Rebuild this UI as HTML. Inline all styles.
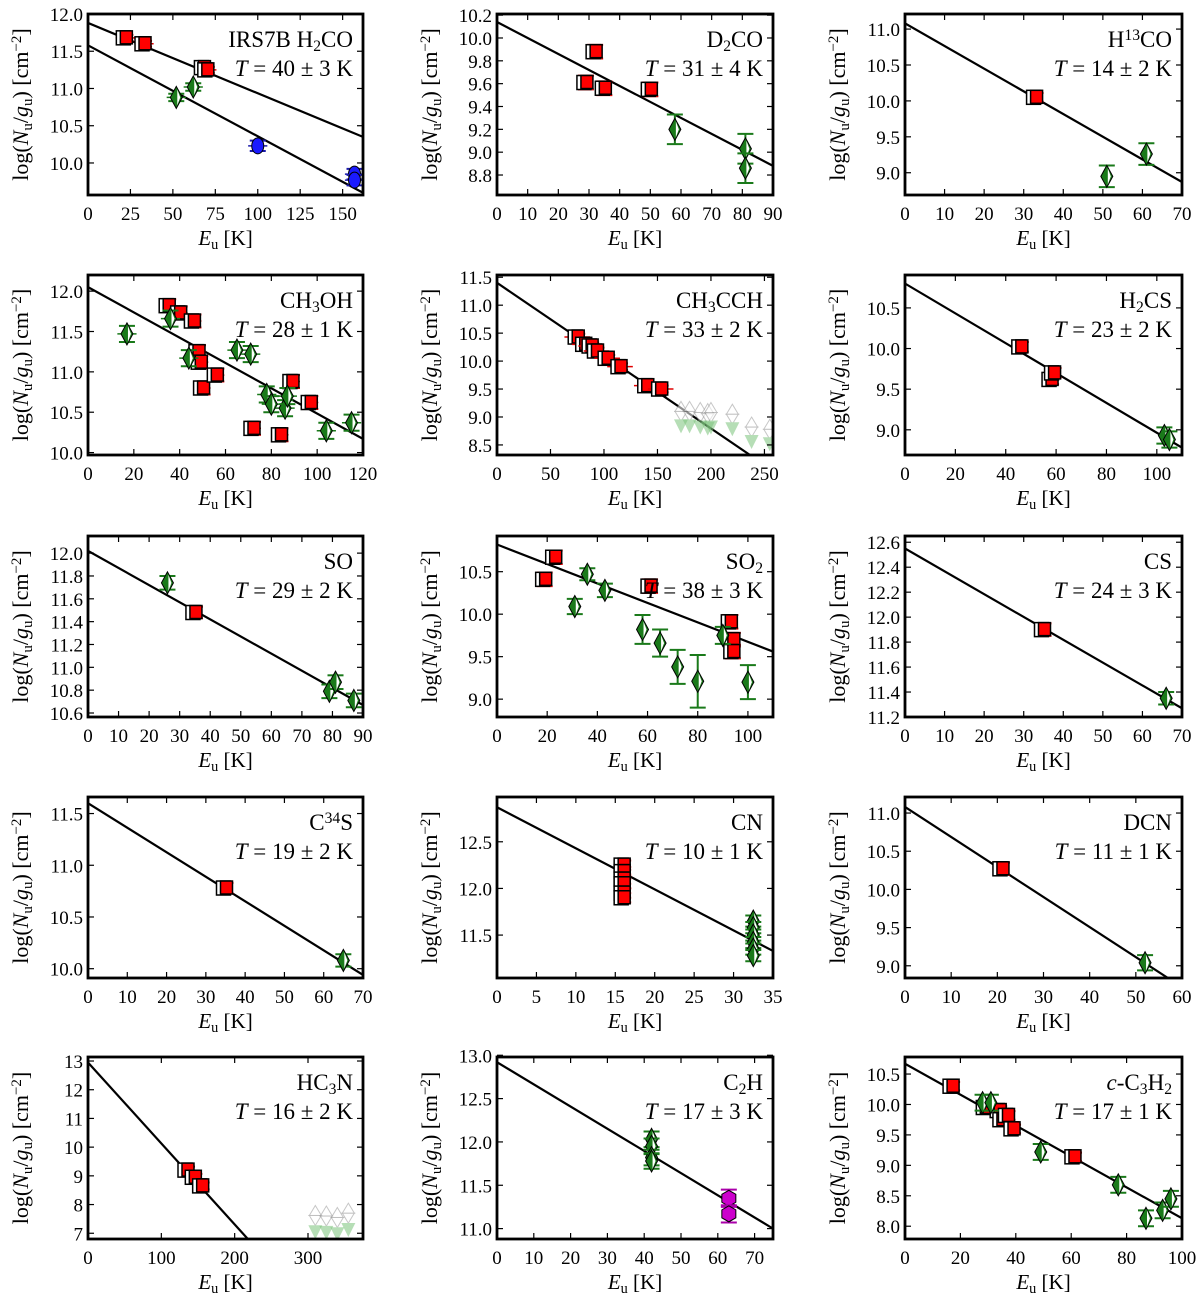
<!DOCTYPE html>
<html><head><meta charset="utf-8"><style>
html,body{margin:0;padding:0;background:#fff;width:1200px;height:1300px;overflow:hidden}
svg{display:block;font-family:"Liberation Serif",serif}
</style></head><body>
<svg id="fig" width="1200" height="1300" viewBox="0 0 1200 1300" xmlns="http://www.w3.org/2000/svg"></svg>
<script>
// ---------- data ----------
const h2coRedE=[22,33,68,70], h2coRedN=[11.68,11.6,11.28,11.25];
const h2coGrnE=[52,62], h2coGrnN=[10.88,11.02];
const h2coBluE=[100,157,157], h2coBluN=[10.23,9.85,9.77];
const h2coFitA=[11.88,10.35], h2coFitB=[11.58,9.6];

const d2coRedE=[29,32,35,50], d2coRedN=[9.61,9.88,9.56,9.55];
const d2coGrnE=[58,81,81], d2coGrnN=[9.2,9.03,8.86];
const d2coFit=[10.14,8.88];

const h13coRedE=[33], h13coRedN=[10.05];
const h13coGrnE=[51,61], h13coGrnN=[8.95,9.26];
const h13coFit=[11.08,8.87];

const ch3ohRedE=[35,40,46,48,49,50,56,72,84,89,97], ch3ohRedN=[11.82,11.73,11.63,11.25,11.12,10.8,10.96,10.3,10.22,10.88,10.62];
const ch3ohGrnE=[17,36,44,65,71,78,80,86,87,104,115], ch3ohGrnN=[11.47,11.66,11.17,11.27,11.22,10.72,10.6,10.55,10.7,10.27,10.37];
const ch3ohFit=[12.05,10.17];

const ch3cchRedE=[75,82,88,93,103,115,140,153], ch3cchRedN=[10.43,10.3,10.27,10.18,10.05,9.9,9.56,9.5];
const ch3cchLimE=[172,180,190,197,200,220,238,255], ch3cchLimN=[9.1,9.1,9.08,9.06,9.08,9.05,8.82,8.78];
const ch3cchFit=[11.4,8.04];

const h2csRedE=[46,58,59], h2csRedN=[10.02,9.62,9.7];
const h2csGrnE=[103,105], h2csGrnN=[8.93,8.88];
const h2csFit=[10.8,8.78];

const soRedE=[35], soRedN=[11.48];
const soGrnE=[26,79,81,87], soGrnN=[11.74,10.79,10.87,10.71];
const soFit=[12.02,10.67];

const so2RedE=[19,23,61,93,94,94], so2RedN=[10.41,10.67,10.33,9.91,9.7,9.56];
const so2GrnE=[31,36,43,58,65,72,80,90,100], so2GrnN=[10.09,10.47,10.28,9.82,9.66,9.38,9.21,9.75,9.2];
const so2GrnErr=[0.09,0.07,0.08,0.17,0.16,0.2,0.31,0.1,0.2];
const so2Fit=[10.82,9.56];

const csRedE=[35], csRedN=[11.9];
const csGrnE=[66], csGrnN=[11.35];
const csFit=[12.55,11.27];

const c34sRedE=[35], c34sRedN=[10.78];
const c34sGrnE=[65], c34sGrnN=[10.08];
const c34sFit=[11.6,9.94];

const cnRedE=[16,16,16,16,16,16], cnRedN=[12.25,12.18,12.1,12.05,11.95,11.9];
const cnGrnE=[32.5,32.5,32.5,32.5,32.5,32.5], cnGrnN=[11.65,11.58,11.5,11.42,11.35,11.28];
const cnFit=[12.87,11.33];

const dcnRedE=[21], dcnRedN=[10.27];
const dcnGrnE=[52], dcnGrnN=[9.04];
const dcnFit=[11.08,8.72];

const hc3nRedE=[135,145,155], hc3nRedN=[9.2,8.95,8.65];
const hc3nLimE=[310,325,340,355], hc3nLimN=[7.62,7.6,7.55,7.7];
const hc3nFit=[12.95,2.37];

const c2hGrnE=[42,42,42,42], c2hGrnN=[12.03,11.95,11.82,11.78];
const c2hMagE=[63,63], c2hMagN=[11.35,11.17];
const c2hFit=[12.92,11.0];

const c3h2RedE=[17,29,34,35,37,39,61], c3h2RedN=[10.3,9.95,9.9,9.75,9.82,9.6,9.14];
const c3h2GrnE=[28,31,49,77,87,93,96], c3h2GrnN=[10.03,10.03,9.22,8.68,8.13,8.26,8.45];
const c3h2Fit=[10.67,8.13];

// ---------- layout ----------
const COLS=[[88,363],[497,773],[905,1182]];
const ROWS=[[14,195],[275,455],[536,717],[797,978],[1057,1239]];
const NS="http://www.w3.org/2000/svg";
const svg=document.getElementById('fig');
function mk(tag,attrs,parent){const e=document.createElementNS(NS,tag);for(const k in attrs)e.setAttribute(k,attrs[k]);(parent||svg).appendChild(e);return e;}

const panels=[
 {id:'h2co',c:0,r:0,xr:[0,162],yr:[9.57,12.0],xt:[0,25,50,75,100,125,150],yt:[10.0,10.5,11.0,11.5,12.0],yd:1,
  name:[['IRS7B H',''],['2','sub'],['CO','']],T:'40 ± 3',fits:[h2coFitA,h2coFitB],
  s:[{t:'sq',e:h2coRedE,n:h2coRedN,err:0.04,xe:6},{t:'di',e:h2coGrnE,n:h2coGrnN,err:0.05,xe:6},{t:'ci',e:h2coBluE,n:h2coBluN,err:0.07,xe:6}]},
 {id:'d2co',c:1,r:0,xr:[0,90],yr:[8.625,10.21],xt:[0,10,20,30,40,50,60,70,80,90],yt:[8.8,9.0,9.2,9.4,9.6,9.8,10.0,10.2],yd:1,
  name:[['D',''],['2','sub'],['CO','']],T:'31 ± 4',fits:[d2coFit],
  s:[{t:'sq',e:d2coRedE,n:d2coRedN,err:0.06},{t:'di',e:d2coGrnE,n:d2coGrnN,err:0.13}]},
 {id:'h13co',c:2,r:0,xr:[0,70],yr:[8.69,11.21],xt:[0,10,20,30,40,50,60,70],yt:[9.0,9.5,10.0,10.5,11.0],yd:1,
  name:[['H',''],['13','sup'],['CO','']],T:'14 ± 2',fits:[h13coFit],
  s:[{t:'sq',e:h13coRedE,n:h13coRedN,err:0.06},{t:'di',e:h13coGrnE,n:h13coGrnN,err:0.15}]},
 {id:'ch3oh',c:0,r:1,xr:[0,120],yr:[9.97,12.2],xt:[0,20,40,60,80,100,120],yt:[10.0,10.5,11.0,11.5,12.0],yd:1,
  name:[['CH',''],['3','sub'],['OH','']],T:'28 ± 1',fits:[ch3ohFit],
  s:[{t:'sq',e:ch3ohRedE,n:ch3ohRedN,err:0.08,xe:5},{t:'di',e:ch3ohGrnE,n:ch3ohGrnN,err:0.1,xe:6}]},
 {id:'ch3cch',c:1,r:1,xr:[0,258],yr:[8.32,11.54],xt:[0,50,100,150,200,250],yt:[8.5,9.0,9.5,10.0,10.5,11.0,11.5],yd:1,
  name:[['CH',''],['3','sub'],['CCH','']],T:'33 ± 2',fits:[ch3cchFit],
  s:[{t:'sq',e:ch3cchRedE,n:ch3cchRedN,err:0.06,xe:8},{t:'lim',e:ch3cchLimE,n:ch3cchLimN}]},
 {id:'h2cs',c:2,r:1,xr:[0,110],yr:[8.69,10.905],xt:[0,20,40,60,80,100],yt:[9.0,9.5,10.0,10.5],yd:1,
  name:[['H',''],['2','sub'],['CS','']],T:'23 ± 2',fits:[h2csFit],
  s:[{t:'sq',e:h2csRedE,n:h2csRedN,err:0.06},{t:'di',e:h2csGrnE,n:h2csGrnN,err:0.1}]},
 {id:'so',c:0,r:2,xr:[0,90],yr:[10.565,12.15],xt:[0,10,20,30,40,50,60,70,80,90],yt:[10.6,10.8,11.0,11.2,11.4,11.6,11.8,12.0],yd:1,
  name:[['SO','']],T:'29 ± 2',fits:[soFit],
  s:[{t:'sq',e:soRedE,n:soRedN,err:0.05},{t:'di',e:soGrnE,n:soGrnN,err:0.06}]},
 {id:'so2',c:1,r:2,xr:[0,110],yr:[8.79,10.92],xt:[0,20,40,60,80,100],yt:[9.0,9.5,10.0,10.5],yd:1,
  name:[['SO',''],['2','sub']],T:'38 ± 3',fits:[so2Fit],
  s:[{t:'sq',e:so2RedE,n:so2RedN,err:0.08},{t:'di',e:so2GrnE,n:so2GrnN,errs:so2GrnErr}]},
 {id:'cs',c:2,r:2,xr:[0,70],yr:[11.2,12.65],xt:[0,10,20,30,40,50,60,70],yt:[11.2,11.4,11.6,11.8,12.0,12.2,12.4,12.6],yd:1,
  name:[['CS','']],T:'24 ± 3',fits:[csFit],
  s:[{t:'sq',e:csRedE,n:csRedN,err:0.05},{t:'di',e:csGrnE,n:csGrnN,err:0.05}]},
 {id:'c34s',c:0,r:3,xr:[0,70],yr:[9.91,11.66],xt:[0,10,20,30,40,50,60,70],yt:[10.0,10.5,11.0,11.5],yd:1,
  name:[['C',''],['34','sup'],['S','']],T:'19 ± 2',fits:[c34sFit],
  s:[{t:'sq',e:c34sRedE,n:c34sRedN,err:0.05},{t:'di',e:c34sGrnE,n:c34sGrnN,err:0.06}]},
 {id:'cn',c:1,r:3,xr:[0,35],yr:[11.04,12.98],xt:[0,5,10,15,20,25,30,35],yt:[11.5,12.0,12.5],yd:1,
  name:[['CN','']],T:'10 ± 1',fits:[cnFit],
  s:[{t:'sq',e:cnRedE,n:cnRedN,err:0.05},{t:'di',e:cnGrnE,n:cnGrnN,err:0.06}]},
 {id:'dcn',c:2,r:3,xr:[0,60],yr:[8.84,11.21],xt:[0,10,20,30,40,50,60],yt:[9.0,9.5,10.0,10.5,11.0],yd:1,
  name:[['DCN','']],T:'11 ± 1',fits:[dcnFit],
  s:[{t:'sq',e:dcnRedE,n:dcnRedN,err:0.08},{t:'di',e:dcnGrnE,n:dcnGrnN,err:0.1}]},
 {id:'hc3n',c:0,r:4,xr:[0,375],yr:[6.8,13.14],xt:[0,100,200,300],yt:[7,8,9,10,11,12,13],yd:0,
  name:[['HC',''],['3','sub'],['N','']],T:'16 ± 2',fits:[hc3nFit],
  s:[{t:'sq',e:hc3nRedE,n:hc3nRedN,err:0.12},{t:'lim',e:hc3nLimE,n:hc3nLimN,drop:0.55}]},
 {id:'c2h',c:1,r:4,xr:[0,75],yr:[10.88,12.98],xt:[0,10,20,30,40,50,60,70],yt:[11.0,11.5,12.0,12.5,13.0],yd:1,
  name:[['C',''],['2','sub'],['H','']],T:'17 ± 3',fits:[c2hFit],
  s:[{t:'di',e:c2hGrnE,n:c2hGrnN,err:0.09},{t:'hx',e:c2hMagE,n:c2hMagN,err:0.1}]},
 {id:'c3h2',c:2,r:4,xr:[0,100],yr:[7.79,10.78],xt:[0,20,40,60,80,100],yt:[8.0,8.5,9.0,9.5,10.0,10.5],yd:1,
  name:[['c','it'],['-C',''],['3','sub'],['H',''],['2','sub']],T:'17 ± 1',fits:[c3h2Fit],
  s:[{t:'sq',e:c3h2RedE,n:c3h2RedN,err:0.07},{t:'di',e:c3h2GrnE,n:c3h2GrnN,err:0.13}]}
];

function rich(parts,parent,size){
  parts.forEach(p=>{
    const ts=mk('tspan',{},parent);
    if(p[1]==='sub'){ts.setAttribute('baseline-shift','-25%');ts.setAttribute('font-size',size*0.68);}
    else if(p[1]==='sup'){ts.setAttribute('baseline-shift','45%');ts.setAttribute('font-size',size*0.68);}
    else if(p[1]==='it'){ts.setAttribute('font-style','italic');}
    ts.textContent=p[0];
  });
}

panels.forEach(P=>{
  const [x0,x1]=COLS[P.c],[y0,y1]=ROWS[P.r];
  const sx=v=>x0+(v-P.xr[0])/(P.xr[1]-P.xr[0])*(x1-x0);
  const sy=v=>y1-(v-P.yr[0])/(P.yr[1]-P.yr[0])*(y1-y0);
  const g=mk('g',{});
  
  
  const cp=mk('clipPath',{id:'cp-'+P.id},g);
  mk('rect',{x:x0,y:y0,width:x1-x0,height:y1-y0},cp);
  const plot=mk('g',{'clip-path':'url(#cp-'+P.id+')'},g);
  P.fits.forEach((f,i)=>{
    // clip segment to the y-range
    let ea=P.xr[0], eb=P.xr[1], na=f[0], nb=f[1];
    const slope=(nb-na)/(eb-ea);
    if(nb<P.yr[0]){eb=ea+(P.yr[0]-na)/slope; nb=P.yr[0];}
    const l=mk('line',{x1:sx(ea),y1:sy(na),x2:sx(eb),y2:sy(nb),stroke:'#000','stroke-width':2.2},plot);
    
    
  });
  P.s.forEach(S=>{
    S.e.forEach((e,i)=>{
      const px=sx(e),py=sy(S.n[i]);
      const err=S.errs?S.errs[i]:S.err;
      const col={sq:'#ff0000',di:'#1a7a1a',ci:'#1a1aff',hx:'#cc00cc',lim:'#7cc47c'}[S.t];
      const ecol={sq:'#e00000',di:'#1a7a1a',ci:'#1a1aaa',hx:'#aa00aa',lim:'#7cc47c'}[S.t];
      if(S.t==='lim'){
        const m=mk('g',{opacity:0.55},plot);
        
        
        mk('polygon',{points:`${px},${py-10} ${px+6},${py} ${px},${py+10} ${px-6},${py}`,fill:'#fff',stroke:'#999','stroke-width':1},m);
        mk('line',{x1:px-7,y1:py,x2:px+7,y2:py,stroke:'#888','stroke-width':1},m);
        const ty=py+ (S.drop? (sy(S.n[i]-S.drop)-py) : 14);
        mk('polygon',{points:`${px-7},${ty-6} ${px+7},${ty-6} ${px},${ty+8}`,fill:col},m);
        return;
      }
      if(err){
        const a=sy(S.n[i]+err),b=sy(S.n[i]-err);
        const eb=mk('g',{stroke:ecol,'stroke-width':2},plot);
        
        
        mk('line',{x1:px,y1:a,x2:px,y2:b},eb);
        mk('line',{x1:px-8,y1:a,x2:px+8,y2:a},eb);
        mk('line',{x1:px-8,y1:b,x2:px+8,y2:b},eb);
        if(S.xe){mk('line',{x1:px-S.xe*1.6,y1:py,x2:px+S.xe*1.6,y2:py,'stroke-width':1.5},eb);}
      }
      let m;
      if(S.t==='sq'){
        m=mk('g',{},plot);
        mk('rect',{x:px-9,y:py-7,width:14,height:14,fill:'#fff',stroke:'#000','stroke-width':1.5},m);
        mk('rect',{x:px-5,y:py-7,width:12,height:13,fill:col,stroke:'#000','stroke-width':1.5},m);
      }else if(S.t==='di'){
        m=mk('g',{},plot);
        mk('polygon',{points:`${px},${py-11} ${px+6},${py} ${px},${py+11} ${px-6},${py}`,fill:col,stroke:'#000','stroke-width':1},m);
        mk('polygon',{points:`${px+1},${py-8} ${px+4},${py} ${px+1},${py+8}`,fill:'#fff'},m);
      }else if(S.t==='ci'){
        m=mk('ellipse',{cx:px,cy:py,rx:6,ry:8,fill:col,stroke:'#000','stroke-width':1},plot);
      }else{
        m=mk('polygon',{points:`${px},${py-8} ${px+7},${py-4} ${px+7},${py+4} ${px},${py+8} ${px-7},${py+4} ${px-7},${py-4}`,fill:col,stroke:'#000','stroke-width':1},plot);
      }
      
      
    });
  });
  const fr=mk('rect',{x:x0,y:y0,width:x1-x0,height:y1-y0,fill:'none',stroke:'#000','stroke-width':2.8},g);
  
  
  P.xt.forEach(v=>{
    const x=sx(v);
    mk('line',{x1:x,y1:y1,x2:x,y2:y1-6,stroke:'#000','stroke-width':1.2},g);
    mk('line',{x1:x,y1:y0,x2:x,y2:y0+6,stroke:'#000','stroke-width':1.2},g);
    const t=mk('text',{x:x,y:y1+25,'text-anchor':'middle','font-size':19},g);
    
    
    t.textContent=v;
  });
  P.yt.forEach(v=>{
    const y=sy(v);
    mk('line',{x1:x0,y1:y,x2:x0+6,y2:y,stroke:'#000','stroke-width':1.2},g);
    mk('line',{x1:x1,y1:y,x2:x1-6,y2:y,stroke:'#000','stroke-width':1.2},g);
    const t=mk('text',{x:x0-5,y:y+7,'text-anchor':'end','font-size':19},g);
    
    
    t.textContent=v.toFixed(P.yd);
  });
  const xl=mk('text',{x:(x0+x1)/2,y:y1+50,'text-anchor':'middle','font-size':21},g);
  
  
  rich([['E','it'],['u','sub'],[' [K]','']],xl,21);
  const yc=(y0+y1)/2, yx=x0-60;
  const yl=mk('text',{x:yx,y:yc,'text-anchor':'middle','font-size':22,transform:`rotate(-90 ${yx} ${yc})`},g);
  
  
  rich([['log(',''],['N','it'],['u','sub'],['/',''],['g','it'],['u','sub'],[') [cm',''],['−2','sup'],[']','']],yl,22);
  const nm=mk('text',{x:x1-10,y:y0+33,'text-anchor':'end','font-size':23},g);
  
  
  rich(P.name,nm,23);
  const tt=mk('text',{x:x1-10,y:y0+62,'text-anchor':'end','font-size':23},g);
  
  
  rich([['T','it'],[' = '+P.T+' K','']],tt,23);
});
</script>
</body></html>
